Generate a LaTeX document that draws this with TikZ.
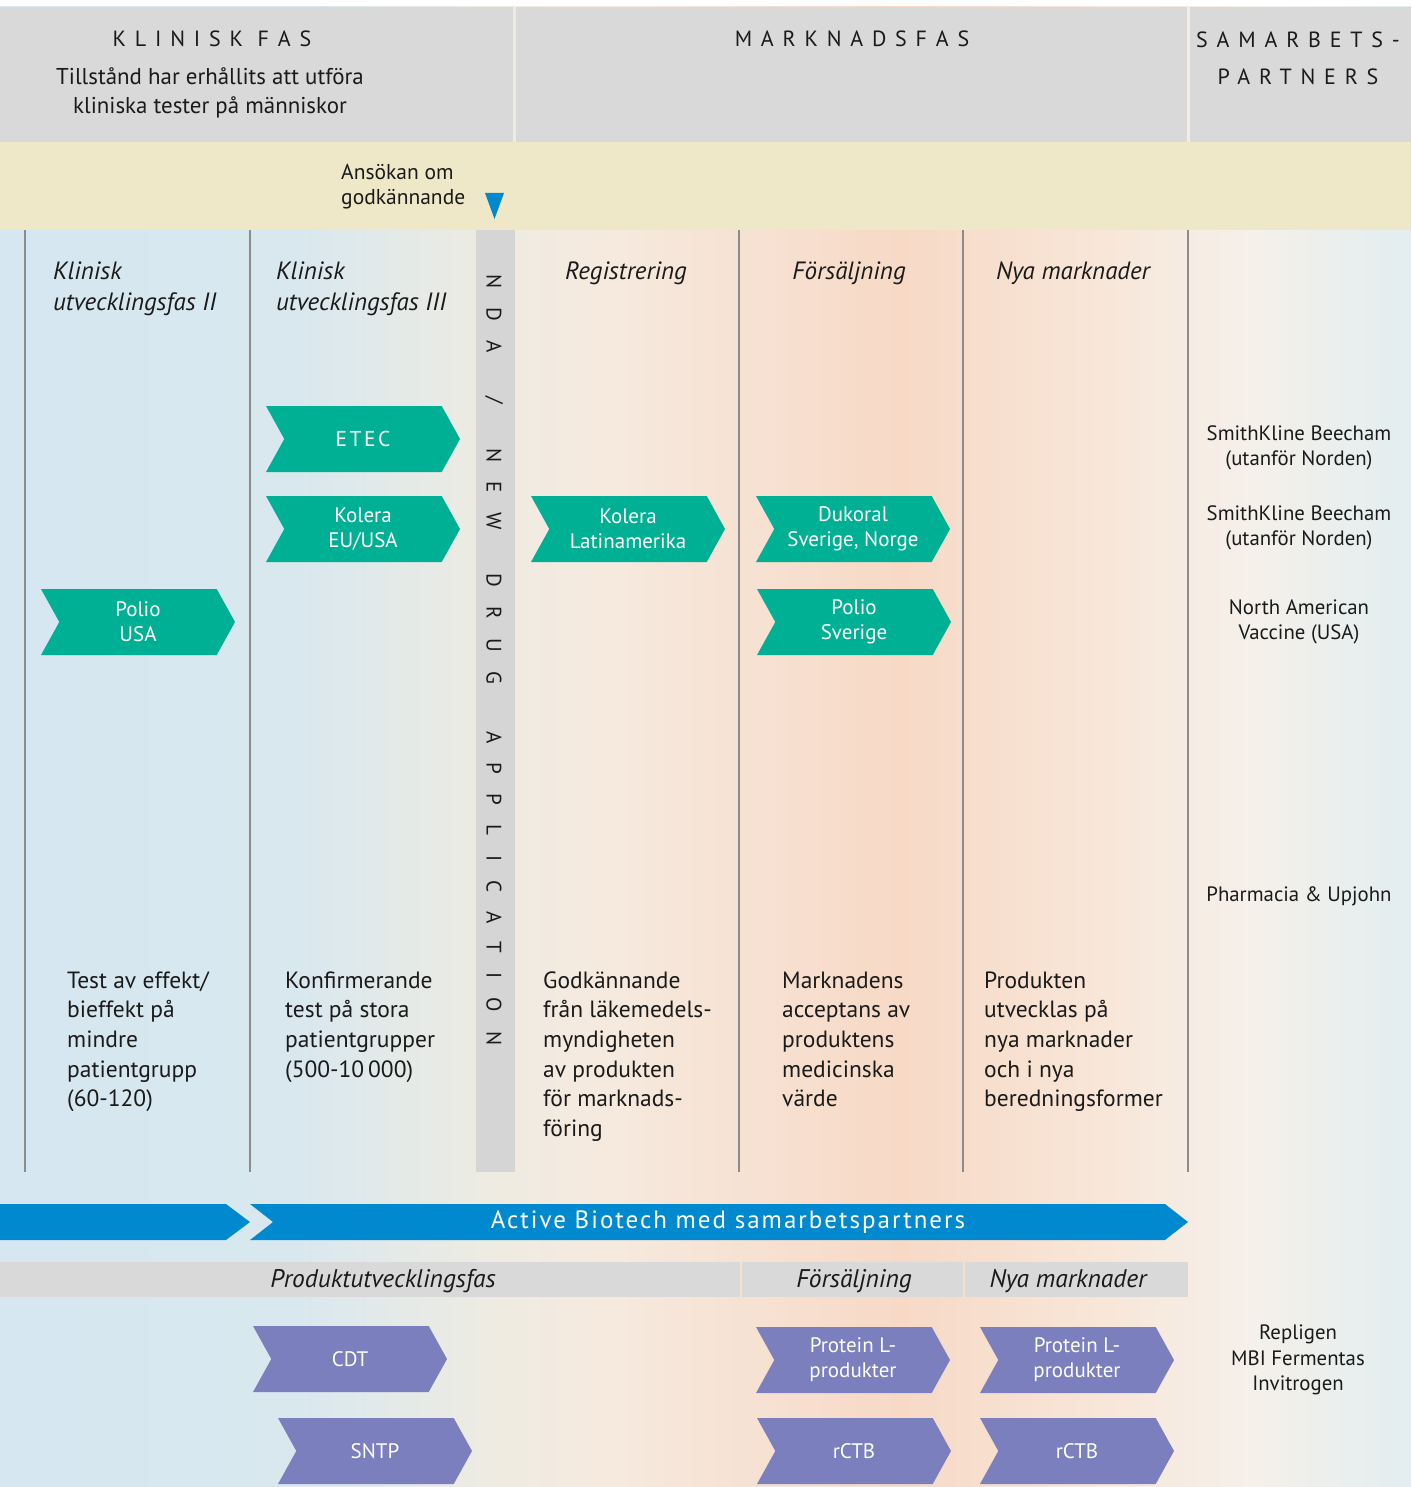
\documentclass[tikz,border=0pt]{standalone}
\usepackage{fontspec}
\setmainfont{PT Sans}
\usetikzlibrary{shapes.symbols}
\definecolor{hdrgray}{HTML}{D9D9D9}
\definecolor{ndagray}{HTML}{D5D5D5}
\definecolor{beigeband}{HTML}{EFE8C8}
\definecolor{chevgreen}{HTML}{00B094}
\definecolor{chevpurple}{HTML}{7B7FBE}
\definecolor{barblue}{HTML}{0089CF}
\definecolor{linegray}{HTML}{8C8C8C}
\definecolor{txt}{HTML}{1A1A1A}
\definecolor{bgA}{HTML}{D6E7F1}
\definecolor{bgB}{HTML}{D9E8EF}
\definecolor{bgC}{HTML}{EDEBE2}
\definecolor{bgD}{HTML}{F6EADF}
\definecolor{bgE}{HTML}{F7D9C6}
\definecolor{bgF}{HTML}{F8E6D8}
\definecolor{bgG}{HTML}{F5F0EA}
\definecolor{bgH}{HTML}{E2EEF0}
\pgfdeclarehorizontalshading{bgshade}{100bp}{color(0bp)=(bgA); color(25bp)=(bgA); color(35.6bp)=(bgB); color(42bp)=(bgC); color(46.3bp)=(bgD); color(56.9bp)=(bgE); color(64bp)=(bgF); color(69.3bp)=(bgG); color(75bp)=(bgH); color(100bp)=(bgH)}
\newcommand{\setfs}[2]{\fontsize{#1}{#2}\selectfont}
\tikzset{
  chevbase/.style={shape=signal, signal from=west, signal to=east, signal pointer angle=122,
    minimum width=194pt, minimum height=66pt, inner sep=0pt, text=white, align=center,
    font=\setfs{21}{25}},
  tchev/.style={chevbase, fill=chevgreen},
  pchev/.style={chevbase, fill=chevpurple},
  vline/.style={draw=linegray, line width=1.2pt},
  colhead/.style={font=\setfs{25}{30}\itshape, text=txt, align=left, inner sep=0pt},
  bodytext/.style={font=\setfs{23.5}{29.7}, text=txt, align=left, inner sep=0pt, anchor=base west},
  partner/.style={font=\setfs{20.8}{25.5}, text=txt, align=center, inner sep=0pt},
  hdrtext/.style={font=\setfs{22}{37}\addfontfeature{LetterSpace=40}, text=txt, align=center, inner sep=0pt},
  rowlabel/.style={font=\setfs{25.5}{26}\itshape, text=txt, inner sep=0pt},
  ndaword/.style={rotate=-90, font=\setfs{21}{25}\addfontfeature{LetterSpace=92}, text=txt, inner sep=0pt}
}
\begin{document}
\begin{tikzpicture}[x=1pt,y=-1pt]
\useasboundingbox (0,0) rectangle (1411,1487);
\fill[white] (0,0) rectangle (1411,1487);
\fill[shading=bgshade] (0,7) rectangle (1411,1487);
% header
\fill[hdrgray] (0,7) rectangle (513,142);
\fill[hdrgray] (516,7) rectangle (1187,142);
\fill[hdrgray] (1190,7) rectangle (1411,142);
\fill[beigeband] (0,142) rectangle (1411,230);
\node[hdrtext] (klin) at (212,39) {KLINISK FAS};
\node[font=\setfs{22.9}{29}, text=txt, align=center, inner sep=0pt] (tillst) at (210,93) {Tillstånd har erhållits att utföra\\kliniska tester på människor};
\node[hdrtext] (mark) at (852,39) {MARKNADSFAS};
\node[hdrtext] (samarb) at (1298,58) {SAMARBETS-\\PARTNERS};
\node[font=\setfs{21.5}{25}, text=txt, align=left, inner sep=0pt, anchor=north west] (ansok) at (341,164) {Ansökan om\\godkännande};
\fill[barblue] (485,193) -- (504,193) -- (494.5,219) -- cycle;
% NDA band and lines
\fill[ndagray] (476,230) rectangle (515,1172);
\node[ndaword, anchor=west] (nda1) at (494,274) {NDA};
\node[ndaword] (nda2) at (494,400) {/};
\node[ndaword, anchor=west] (nda3) at (494,448) {NEW};
\node[ndaword, anchor=west] (nda4) at (494,573) {DRUG};
\node[ndaword, anchor=west] (nda5) at (494,731) {APPLICATION};
\foreach \xx in {25,250,739,963,1188} \draw[vline] (\xx,230) -- (\xx,1172);
% column headings
\node[colhead, anchor=base west] (h1) at (53,310) {Klinisk\\utvecklingsfas II};
\node[colhead, anchor=base west] (h2) at (276,310) {Klinisk\\utvecklingsfas III};
\node[colhead, anchor=base] (h3) at (626,280) {Registrering};
\node[colhead, anchor=base] (h4) at (849,280) {Försäljning};
\node[colhead, anchor=base] (h5) at (1073,280) {Nya marknader};
% chevrons green
\node[tchev, font=\setfs{21.5}{25}\addfontfeature{LetterSpace=12}] (etec) at (363,439) {ETEC};
\node[tchev] (koleu) at (363,529) {Kolera\\EU/USA};
\node[tchev] (polusa) at (138,622) {Polio\\USA};
\node[tchev] (kollat) at (628,529) {Kolera\\Latinamerika};
\node[tchev] (dukoral) at (853,529) {Dukoral\\Sverige, Norge};
\node[tchev] (polsve) at (854,622) {Polio\\Sverige};
% partners
\node[partner] (skb1) at (1299,448) {SmithKline Beecham\\(utanför Norden)};
\node[partner] (skb2) at (1299,528) {SmithKline Beecham\\(utanför Norden)};
\node[partner] (nav) at (1299,622) {North American\\Vaccine (USA)};
\node[partner] (pharm) at (1299,896) {Pharmacia \& Upjohn};
% body texts (anchored at baseline of last line)
\node[bodytext] (b1) at (67,1106.8) {Test av effekt/\\bieffekt på\\mindre\\patientgrupp\\(60-120)};
\node[bodytext] (b2) at (285,1077.1) {Konfirmerande\\test på stora\\patientgrupper\\(500-10\,000)};
\node[bodytext] (b3) at (543,1136.5) {Godkännande\\från läkemedels-\\myndigheten\\av produkten\\för marknads-\\föring};
\node[bodytext] (b4) at (782,1106.8) {Marknadens\\acceptans av\\produktens\\medicinska\\värde};
\node[bodytext] (b5) at (984,1106.8) {Produkten\\utvecklas på\\nya marknader\\och i nya\\beredningsformer};
% blue bar
\fill[barblue] (0,1204) -- (226,1204) -- (250,1222) -- (226,1240) -- (0,1240) -- cycle;
\node[shape=signal, signal from=west, signal to=east, signal pointer angle=76, fill=barblue,
  minimum width=938pt, minimum height=36pt, inner sep=0pt, text=white,
  font=\setfs{25}{28}\addfontfeature{LetterSpace=8}] (bar) at (719,1222) {\hspace*{18pt}Active Biotech med samarbetspartners};
% gray row
\fill[hdrgray] (0,1262) rectangle (740,1297);
\fill[hdrgray] (742,1262) rectangle (963,1297);
\fill[hdrgray] (965,1262) rectangle (1188,1297);
\node[rowlabel] (r1) at (383,1281) {Produktutvecklingsfas};
\node[rowlabel] (r2) at (854,1281) {Försäljning};
\node[rowlabel] (r3) at (1068,1281) {Nya marknader};
% purple chevrons
\node[pchev] (cdt) at (350,1359) {CDT};
\node[pchev] (sntp) at (375,1451) {SNTP};
\node[pchev] (prot1) at (853,1360) {Protein L-\\produkter};
\node[pchev] (prot2) at (1077,1360) {Protein L-\\produkter};
\node[pchev] (rctb1) at (854,1451) {rCTB};
\node[pchev] (rctb2) at (1077,1451) {rCTB};
\node[partner] (repl) at (1298,1360) {Repligen\\MBI Fermentas\\Invitrogen};
\end{tikzpicture}
\end{document}
